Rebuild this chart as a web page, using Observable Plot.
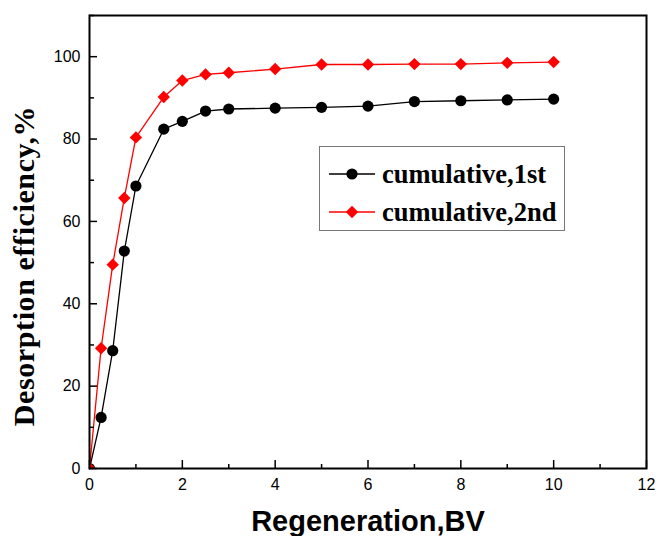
<!DOCTYPE html>
<html><head><meta charset="utf-8">
<script src="https://cdn.jsdelivr.net/npm/d3@7"></script>
<script src="https://cdn.jsdelivr.net/npm/@observablehq/plot@0.6"></script>
<style>
body{margin:0;background:#fff}
#wrap{position:relative;width:656px;height:536px}
#legend{position:absolute;left:319px;top:146px;width:246px;height:85px;border:1px solid #777;background:#fff;box-sizing:border-box;font-family:"Liberation Serif","Times New Roman",serif;font-weight:bold;font-size:26.5px;color:#000}
.row{position:absolute;left:8px;height:30px;display:flex;align-items:center}
.row svg{margin-right:6px}
.ytitle{letter-spacing:0.6px}
</style>
</head><body>
<div id="wrap"><div id="legend"></div></div>
<script>
const bv = [0, 0.25, 0.5, 0.75, 1, 1.6, 2, 2.5, 3, 4, 5, 6, 7, 8, 9, 10];
const first = [0, 12.4, 28.6, 52.8, 68.6, 82.4, 84.3, 86.8, 87.3, 87.5, 87.7, 88.0, 89.1, 89.3, 89.5, 89.7];
const second = [0, 29.2, 49.5, 65.7, 80.4, 90.2, 94.2, 95.7, 96.1, 97.0, 98.1, 98.1, 98.2, 98.2, 98.5, 98.7];
const seriesNames = ["cumulative,1st", "cumulative,2nd"];
const seriesColors = ["#000000", "#ff0000"];
const xTicks = [0, 2, 4, 6, 8, 10, 12];
const xMinor = [1, 3, 5, 7, 9, 11];
const yTicks = [0, 20, 40, 60, 80, 100];
const yMinor = [10, 30, 50, 70, 90, 110];
const xTitle = "Regeneration,BV";
const yTitle = "Desorption efficiency,%";

const W = 656, H = 536;
const mL = 89, mR = 10, mT = 15, mB = 68;
const fw = W - mL - mR, fh = H - mT - mB;

const d1 = bv.map((x, i) => ({x, y: first[i]}));
const d2 = bv.map((x, i) => ({x, y: second[i]}));

const chart = Plot.plot({
  width: W, height: H,
  marginLeft: mL, marginRight: mR, marginTop: mT, marginBottom: mB,
  style: {fontFamily: "'Liberation Sans', Arial, sans-serif", background: "#fff", color: "#000"},
  x: {domain: [0, 12]},
  y: {domain: [0, 110]},
  marks: [
    Plot.line(d1, {x: "x", y: "y", stroke: seriesColors[0], strokeWidth: 1.3}),
    Plot.line(d2, {x: "x", y: "y", stroke: seriesColors[1], strokeWidth: 1.3}),
    Plot.dot(d1, {x: "x", y: "y", r: 5.6, fill: seriesColors[0], stroke: "none", clip: "frame"}),
    Plot.dot(d2, {x: "x", y: "y", r: 5.6, symbol: "diamond2", fill: seriesColors[1], stroke: "none", clip: "frame"}),
    Plot.tickX(xTicks, {x: d => d, insetTop: fh - 8, strokeWidth: 1.5}),
    Plot.tickX(xMinor, {x: d => d, insetTop: fh - 4, strokeWidth: 1.5}),
    Plot.tickY(yTicks, {y: d => d, insetRight: fw - 8, strokeWidth: 1.5}),
    Plot.tickY(yMinor, {y: d => d, insetRight: fw - 5, strokeWidth: 1.5}),
    Plot.axisX(xTicks, {tickSize: 0, tickPadding: 10, fontSize: 16, fill: "#000", label: null}),
    Plot.axisY(yTicks, {tickSize: 0, tickPadding: 9, fontSize: 16, fill: "#000", label: null}),
    Plot.frame({stroke: "#000", strokeWidth: 2}),
    Plot.text([xTitle], {frameAnchor: "bottom", text: d => d, lineAnchor: "bottom", dy: 62, fontSize: 29, fontWeight: "bold", fill: "#000"}),
    Plot.text([yTitle], {frameAnchor: "left", text: d => d, textAnchor: "middle", rotate: -90, dx: -65, dy: 24, fontSize: 30, fontWeight: "bold", fill: "#000", fontFamily: "'Liberation Serif', 'Times New Roman', serif", className: "ytitle"})
  ]
});
chart.style.position = "absolute";
chart.style.left = "0";
chart.style.top = "0";
const wrap = document.getElementById("wrap");
wrap.insertBefore(chart, wrap.firstChild);

const legend = document.getElementById("legend");
const rowsY = [12, 50];
seriesNames.forEach((name, i) => {
  const row = document.createElement("div");
  row.className = "row";
  row.style.top = rowsY[i] + "px";
  const marker = i === 0
    ? `<circle cx="24" cy="15" r="5.6" fill="${seriesColors[i]}"/>`
    : `<path d="M24,8.8L30.2,15L24,21.2L17.8,15Z" fill="${seriesColors[i]}"/>`;
  row.innerHTML = `<svg width="48" height="30"><line x1="1" x2="47" y1="15" y2="15" stroke="${seriesColors[i]}" stroke-width="1.3"/>${marker}</svg><span>${name}</span>`;
  legend.appendChild(row);
});
</script>
</body></html>
